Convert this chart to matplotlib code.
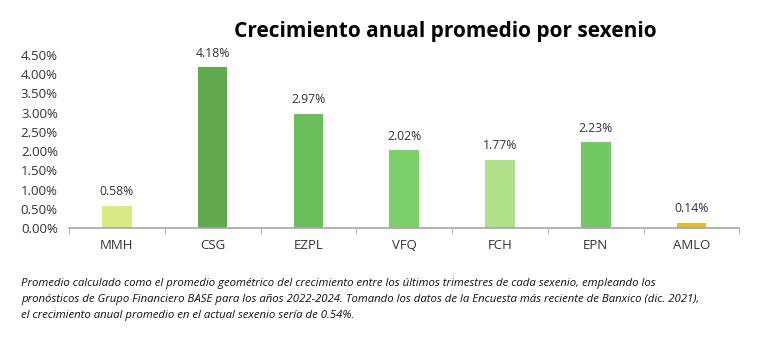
import numpy as np
import matplotlib.pyplot as plt
from matplotlib.ticker import PercentFormatter

plt.rcParams['font.family'] = ['Open Sans', 'DejaVu Sans']

# crecimiento anual promedio (%) por sexenio
sexenios = ['MMH', 'CSG', 'EZPL', 'VFQ', 'FCH', 'EPN', 'AMLO']
crecimiento = [0.58, 4.18, 2.97, 2.02, 1.77, 2.23, 0.14]
colores = ['#dbe985', '#62a84f', '#6cbe5d', '#7bd06a', '#b0e089', '#72c863', '#e0bf2c']

nota = ('Promedio calculado como el promedio geométrico del crecimiento entre los últimos trimestres de cada sexenio, empleando los\n'
        'pronósticos de Grupo Financiero BASE para los años 2022-2024. Tomando los datos de la Encuesta más reciente de Banxico (dic. 2021),\n'
        'el crecimiento anual promedio en el actual sexenio sería de 0.54%.')

fig = plt.figure(figsize=(7.75, 3.46), dpi=100)
ax = fig.add_axes([0.089, 0.341, 0.865, 0.500])

x = np.arange(len(sexenios))
ax.bar(x, crecimiento, width=0.31, color=colores)
for xi, v in zip(x, crecimiento):
    ax.text(xi, v + 0.2, f'{v:.2f}%', ha='center', va='bottom', fontsize=8.8, color='#333333')

ax.set_xlim(-0.5, len(sexenios) - 0.5)
ax.set_ylim(0, 4.5)
ax.set_yticks(np.arange(0, 4.51, 0.5))
ax.yaxis.set_major_formatter(PercentFormatter(decimals=2))
ax.tick_params(axis='y', length=0, labelsize=9.5, pad=8, colors='#333333')

ax.set_xticks(x)
ax.set_xticklabels(sexenios)
ax.set_xticks(np.arange(-0.5, len(sexenios)), minor=True)
ax.tick_params(axis='x', which='major', length=0, labelsize=9.5, pad=8, colors='#333333')
ax.tick_params(axis='x', which='minor', length=4, color='#a6a6a6', direction='out')

for s in ['top', 'right', 'left']:
    ax.spines[s].set_visible(False)
ax.spines['bottom'].set_color('#a6a6a6')
ax.spines['bottom'].set_linewidth(1.2)

fig.text(0.575, 0.91, 'Crecimiento anual promedio por sexenio', ha='center', va='center',
         fontsize=15, fontweight='bold', color='#000000')
fig.text(0.027, 0.135, nota, ha='left', va='center', fontsize=8.2, style='italic',
         linespacing=1.6, color='#111111', family=['Open Sans', 'DejaVu Sans'])

fig.savefig('out.png', dpi=100)
